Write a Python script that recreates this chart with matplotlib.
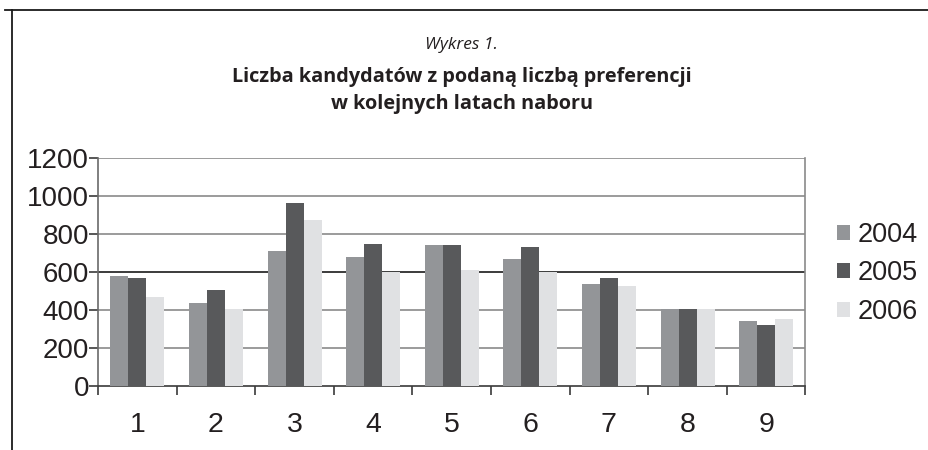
import numpy as np
import matplotlib
matplotlib.use("Agg")
import matplotlib.pyplot as plt
from matplotlib.lines import Line2D
from matplotlib.patches import Patch

# values
categories = ["1", "2", "3", "4", "5", "6", "7", "8", "9"]
years = ["2004", "2005", "2006"]
v2004 = [580, 438, 712, 680, 743, 670, 538, 406, 343]
v2005 = [569, 506, 965, 749, 743, 733, 569, 406, 322]
v2006 = [469, 406, 875, 603, 612, 603, 527, 406, 353]
yticks = [0, 200, 400, 600, 800, 1000, 1200]

colors = ["#939598", "#58595b", "#e0e1e3"]
series = [v2004, v2005, v2006]

plt.rcParams['font.family'] = ['Liberation Sans', 'DejaVu Sans']

fig = plt.figure(figsize=(9.29, 4.5), dpi=100)
ax = fig.add_axes([0.1055, 0.1422, 0.867 - 0.1055, 0.648 - 0.1422])

x = np.arange(1, len(categories) + 1)
w = 0.229
for i, (vals, c) in enumerate(zip(series, colors)):
    ax.bar(x + (i - 1) * w, vals, width=w, color=c, edgecolor='none',
           label=years[i], zorder=3)

ax.set_xlim(0.5, 9.5)
ax.set_ylim(0, 1200)
ax.set_yticks(yticks)
ax.set_yticklabels([str(t) for t in yticks])
for t in yticks[1:]:
    col = "#1a1a1a" if t == 600 else "#8a8a8a"
    ax.axhline(t, color=col, lw=1.2, zorder=1)

ax.set_xticks(x)
ax.set_xticklabels(categories)
ax.set_xticks(np.arange(0.5, 10, 1), minor=True)
ax.tick_params(axis='x', which='major', length=0, pad=18.5, labelsize=20.5,
               colors='#231f20')
ax.tick_params(axis='x', which='minor', length=6.5, width=1.2,
               color='#3a3a3a', direction='out')
ax.tick_params(axis='y', length=6.5, width=1.2, color='#3a3a3a', pad=0,
               labelsize=20, labelcolor='#231f20')

ax.spines['top'].set_visible(False)
ax.spines['right'].set_color('#8a8a8a')
ax.spines['right'].set_linewidth(1.2)
ax.spines['left'].set_color('#6a6a6a')
ax.spines['left'].set_linewidth(1.2)
ax.spines['bottom'].set_color('#3a3a3a')
ax.spines['bottom'].set_linewidth(1.2)

handles = [Patch(facecolor=c, edgecolor='none') for c in colors]
fig.legend(handles, years, loc='center left',
           bbox_to_anchor=(836.7 / 929, 1 - 273.5 / 450),
           frameon=False, fontsize=19.5, handlelength=0.48, handleheight=0.48,
           handletextpad=0.3, labelspacing=0.47, borderpad=0, borderaxespad=0,
           labelcolor='#231f20')

# titles
fig.text(461 / 929, 1 - 45 / 450, "Wykres 1.", ha='center', va='center',
         fontsize=12.5, style='italic', family='Open Sans', color='#231f20')
fig.text(462 / 929, 1 - 77 / 450, "Liczba kandydatów z podaną liczbą preferencji",
         ha='center', va='center', fontsize=14.3, weight='bold',
         family='Open Sans', color='#231f20')
fig.text(462 / 929, 1 - 104 / 450, "w kolejnych latach naboru",
         ha='center', va='center', fontsize=14.3, weight='bold',
         family='Open Sans', color='#231f20')

# page frame
fig.add_artist(Line2D([5 / 929, 1], [1 - 10 / 450, 1 - 10 / 450],
                      color='#1a1a1a', lw=1.3))
fig.add_artist(Line2D([11.7 / 929, 11.7 / 929], [0, 1 - 10 / 450],
                      color='#1a1a1a', lw=1.3))

plt.savefig("out.png", dpi=100)
plt.close(fig)
